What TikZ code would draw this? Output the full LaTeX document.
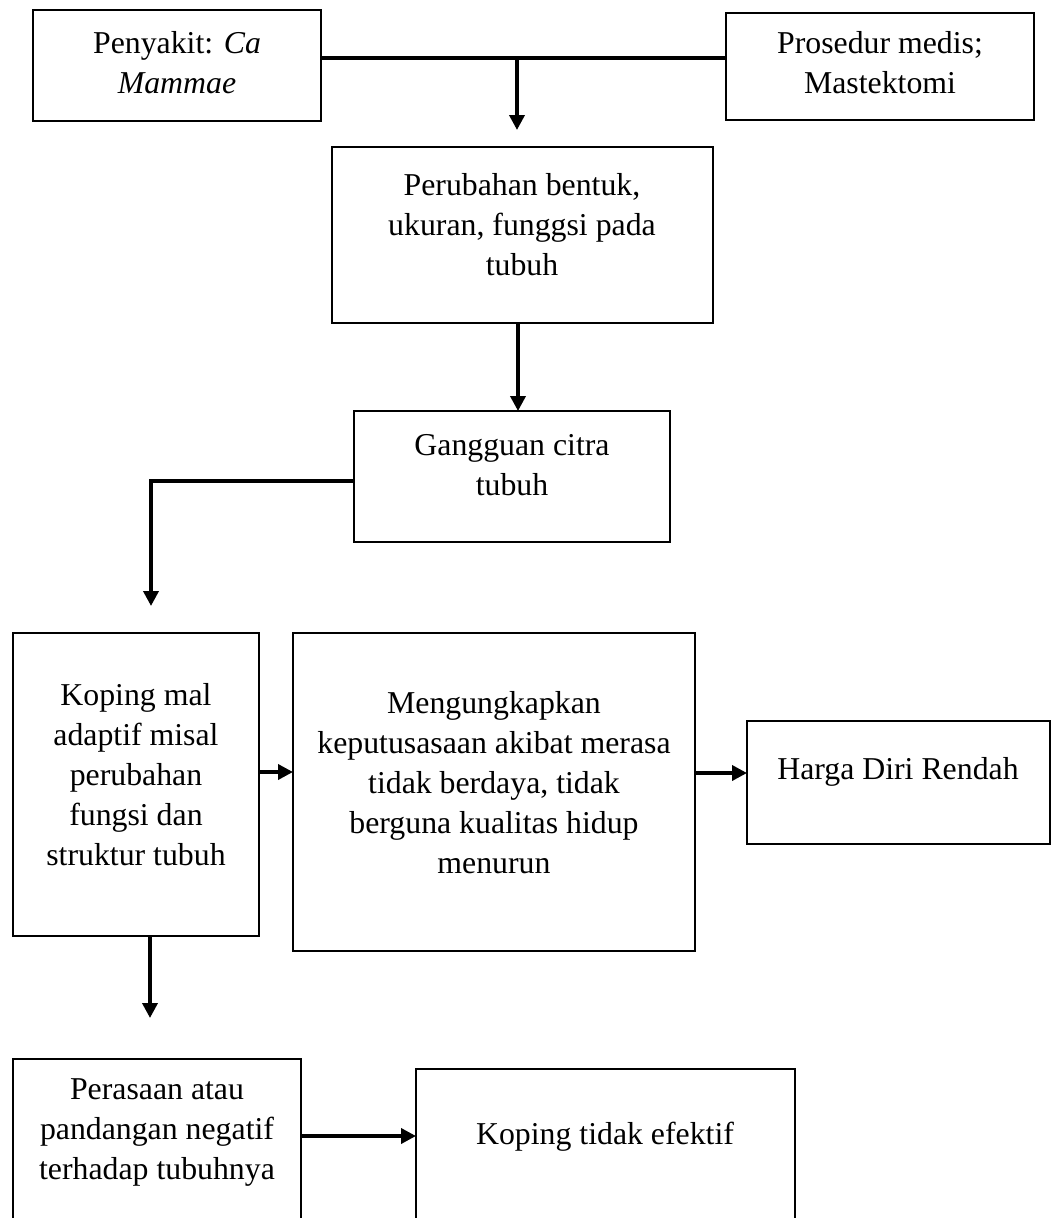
\documentclass[tikz,border=0pt]{standalone}
\usepackage{fontspec}
\setmainfont{Liberation Serif}
\usetikzlibrary{arrows.meta,calc}
\begin{document}
\begin{tikzpicture}[x=1pt,y=-1pt,
  box/.style={draw, line width=2.8pt, rectangle, inner sep=0pt, outer sep=0pt},
  txt/.style={align=center, font=\fontsize{31.8}{40}\selectfont, inner sep=0pt},
  conn/.style={line width=3.6pt},
  arr/.style={conn, -{Triangle[width=15pt,length=15pt]}}]
\fill[white] (0,0) rectangle (1053,1218);
\useasboundingbox (0,0) rectangle (1053,1218);
\clip (0,0) rectangle (1053,1218);

% boxes
\node[box, minimum width=288pt, minimum height=111pt] (b1) at (177,65.5) {};
\node[box, minimum width=308pt, minimum height=107pt] (b2) at (880,66.5) {};
\node[box, minimum width=381pt, minimum height=176pt] (b4) at (522.5,235) {};
\node[box, minimum width=316pt, minimum height=131pt] (b6) at (512,476.5) {};
\node[box, minimum width=246pt, minimum height=303pt] (b7) at (136,784.5) {};
\node[box, minimum width=402pt, minimum height=318pt] (b8) at (494,792) {};
\node[box, minimum width=303pt, minimum height=123pt] (b9) at (898.5,782.5) {};
\node[box, minimum width=288pt, minimum height=191pt] (b10) at (157,1154.5) {};
\node[box, minimum width=379pt, minimum height=181pt] (b11) at (605.5,1159.5) {};

% texts
\node[txt] (t1) at (177,63) {Penyakit: \textit{Ca}\\\textit{Mammae}};
\node[txt] (t2) at (880,63) {Prosedur medis;\\Mastektomi};
\node[txt] (t4) at (522,225) {Perubahan bentuk,\\ukuran, funggsi pada\\tubuh};
\node[txt] (t6) at (512,465) {Gangguan citra\\tubuh};
\node[txt] (t7) at (136,775) {Koping mal\\adaptif misal\\perubahan\\fungsi dan\\struktur tubuh};
\node[txt] (t8) at (494,783) {Mengungkapkan\\keputusasaan akibat merasa\\tidak berdaya, tidak\\berguna kualitas hidup\\menurun};
\node[txt] (t9) at (898,772) {Harga Diri Rendah};
\node[txt] (t10) at (157,1133) {Perasaan atau\\pandangan negatif\\terhadap tubuhnya};
\node[txt] (t11) at (605,1137) {Koping tidak efektif};

% connectors
\coordinate (j1) at (517,58);
\draw[conn] (j1 -| b1.east) -- (j1 -| b2.west);
\draw[arr, shorten >=17pt] (j1) -- (j1 |- b4.north);
\coordinate (j2) at (518,0);
\draw[arr] (j2 |- b4.south) -- (j2 |- b6.north);
\coordinate (j3) at (151,481);
\draw[arr, shorten >=27pt] (j3 -| b6.west) -- (j3) -- (j3 |- b7.north);
\coordinate (j4) at (0,772);
\draw[arr] (j4 -| b7.east) -- (j4 -| b8.west);
\coordinate (j5) at (0,773);
\draw[arr] (j5 -| b8.east) -- (j5 -| b9.west);
\coordinate (j6) at (150,0);
\draw[arr, shorten >=41pt] (j6 |- b7.south) -- (j6 |- b10.north);
\coordinate (j7) at (0,1136);
\draw[arr] (j7 -| b10.east) -- (j7 -| b11.west);
\end{tikzpicture}
\end{document}
